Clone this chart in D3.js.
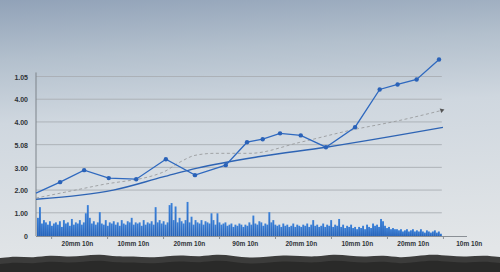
<!DOCTYPE html>
<html><head><meta charset="utf-8">
<script src="https://cdn.jsdelivr.net/npm/d3@7"></script>
<style>html,body{margin:0;padding:0;overflow:hidden;background:#dfe4e8}</style>
</head><body><svg id="c" width="500" height="272"></svg>
<script>
// ---- data ----
const yTickValues = [0, 1, 2, 3, 4, 5, 6, 7];
const yTickLabels = ["0", "1.00", "2.00", "3.00", "5.08", "4.00", "4.00", "1.05"];
const xTickLabels = ["20mm 10n", "10mm 10n", "20mm 10n", "90m 10n", "20mm 10n", "10mm 10n", "20mm 10n", "10m 10n"];
const mainX = [0, 0.43, 0.86, 1.30, 1.79, 2.32, 2.84, 3.39, 3.77, 4.05, 4.36, 4.73, 5.18, 5.70, 6.14, 6.46, 6.80, 7.20];
const mainY = [1.89, 2.37, 2.90, 2.55, 2.50, 3.38, 2.68, 3.12, 4.13, 4.26, 4.52, 4.43, 3.91, 4.79, 6.45, 6.67, 6.89, 7.77];
const trendX = [0, 0.79, 1.38, 2.27, 2.88, 4.0, 5.18, 7.27];
const trendY = [1.62, 1.80, 2.02, 2.60, 2.99, 3.50, 3.91, 4.78];
const dashX = [0, 1.14, 2.27, 2.57, 2.84, 3.2, 3.82, 4.71, 5.61, 6.50, 7.25];
const dashY = [1.67, 2.24, 2.81, 3.25, 3.55, 3.64, 3.64, 4.12, 4.65, 5.09, 5.53];
const barValues = [
 0.8,1.27,0.55,0.7,0.6,0.5,0.65,0.45,0.55,0.6,
 0.5,0.65,0.4,0.7,0.55,0.6,0.45,0.75,0.5,0.6,
 0.55,0.7,0.5,0.6,1.0,1.36,0.8,0.55,0.65,0.5,
 0.6,1.05,0.55,0.5,0.7,0.45,0.6,0.55,0.65,0.5,
 0.6,0.45,0.7,0.55,0.5,0.65,0.6,0.8,0.5,0.6,
 0.55,0.6,0.45,0.7,0.5,0.6,0.55,0.65,0.5,1.27,
 0.6,0.7,0.55,0.65,0.5,0.6,1.36,1.45,0.7,1.3,
 0.6,0.8,0.65,0.55,0.7,1.5,0.6,0.85,0.5,0.7,
 0.6,0.55,0.7,0.5,0.65,0.6,0.55,1.0,0.7,0.5,
 1.0,0.6,0.5,0.55,0.6,0.45,0.5,0.55,0.4,0.5,
 0.45,0.55,0.5,0.4,0.5,0.45,0.6,0.5,0.9,0.55,
 0.5,0.65,0.6,0.45,0.55,0.5,1.05,0.6,0.7,0.5,
 0.45,0.5,0.4,0.55,0.45,0.5,0.4,0.45,0.55,0.4,
 0.5,0.45,0.4,0.5,0.45,0.55,0.4,0.5,0.7,0.45,
 0.5,0.4,0.45,0.55,0.4,0.5,0.45,0.7,0.4,0.5,
 0.45,0.75,0.4,0.5,0.35,0.45,0.4,0.5,0.35,0.4,
 0.3,0.4,0.35,0.45,0.3,0.5,0.4,0.35,0.55,0.45,
 0.5,0.4,0.75,0.65,0.45,0.35,0.4,0.3,0.35,0.3,
 0.3,0.25,0.3,0.2,0.25,0.3,0.2,0.25,0.3,0.2,
 0.25,0.2,0.3,0.2,0.15,0.25,0.2,0.15,0.2,0.25,
 0.15,0.2,0.1
];
// ground silhouette profile (decoration)
const groundProfile = [258,256,258,255,257,256,254,257,256,258,256,255,257,254,256,258,257,255,256,257,254,256,257,255,258,256,254,256,257,255,257];

// ---- drawing ----
const svg = d3.select("#c");
const W = 500, H = 272;
const defs = svg.append("defs");
const bg = defs.append("linearGradient").attr("id","bg").attr("x1",0).attr("y1",0).attr("x2",0.1).attr("y2",1);
bg.append("stop").attr("offset","0%").attr("stop-color","#91a2b8");
bg.append("stop").attr("offset","22%").attr("stop-color","#b3c0cd");
bg.append("stop").attr("offset","45%").attr("stop-color","#cfd7df");
bg.append("stop").attr("offset","100%").attr("stop-color","#e3e6e8");
svg.append("rect").attr("width",W).attr("height",H).attr("fill","url(#bg)");

const barGrad = defs.append("linearGradient").attr("id","bar").attr("x1",0).attr("y1",0).attr("x2",0).attr("y2",1);
barGrad.append("stop").attr("offset","0%").attr("stop-color","#3a80d8");
barGrad.append("stop").attr("offset","100%").attr("stop-color","#2563ba");

const x = d3.scaleLinear().domain([0, 7.7]).range([36, 467]);
const y = d3.scaleLinear().domain([0, 7]).range([236, 77]);
const gridEnd = x(7.25);

// gridlines
svg.append("g").selectAll("line").data(yTickValues.slice(1)).join("line")
  .attr("x1", 36).attr("x2", gridEnd)
  .attr("y1", d => y(d) - 0.5).attr("y2", d => y(d) - 0.5)
  .attr("stroke", "#a9aeb3").attr("stroke-width", 0.9);

// bars
const bx = d3.scaleBand().domain(d3.range(barValues.length)).range([37, gridEnd]).paddingInner(0.05);
svg.append("g").selectAll("rect").data(barValues).join("rect")
  .attr("x", (d, i) => bx(i)).attr("width", bx.bandwidth())
  .attr("y", d => y(d)).attr("height", d => y(0) - y(d))
  .attr("fill", "url(#bar)");

// y axis
const yAxis = d3.axisLeft(y).tickValues(yTickValues).tickSize(0).tickPadding(8)
  .tickFormat((d, i) => yTickLabels[i]);
const gy = svg.append("g").attr("transform", "translate(36,0)").call(yAxis);
gy.select(".domain").attr("stroke", "#7d838a").attr("d", `M0,${y(7.2)}V${y(0)}`);
gy.selectAll("text").attr("font-family", "Liberation Sans, Arial, sans-serif").attr("font-size", 7).attr("font-weight", "bold").attr("fill", "#2f3337");

// x axis
const xTickPos = d3.range(8).map(i => i + 0.27);
const xAxis = d3.axisBottom(x).tickValues(xTickPos).tickSize(3).tickFormat("");
const gx = svg.append("g").attr("transform", `translate(0,${y(0)})`).call(xAxis);
gx.select(".domain").attr("stroke", "#8a8f95").attr("d", `M36,0.5H467`);
gx.selectAll(".tick line").attr("stroke", "#8a8f95");
svg.append("g").selectAll("text").data(xTickLabels).join("text")
  .attr("x", (d, i) => x(i + 0.74)).attr("y", 246)
  .attr("text-anchor", "middle")
  .attr("font-family", "Liberation Sans, Arial, sans-serif").attr("font-size", 6.5).attr("font-weight", "bold").attr("fill", "#2f3337")
  .text(d => d);

// lines
const lineGen = (xs, ys, curve) => d3.line().x((d, i) => x(xs[i])).y(d => y(d)).curve(curve);
svg.append("path").datum(trendY).attr("d", lineGen(trendX, trendY, d3.curveMonotoneX))
  .attr("fill", "none").attr("stroke", "#2e64b4").attr("stroke-width", 1.4);
svg.append("path").datum(dashY).attr("d", lineGen(dashX, dashY, d3.curveMonotoneX))
  .attr("fill", "none").attr("stroke", "#9a9c9e").attr("stroke-width", 0.9).attr("stroke-dasharray", "3,2.5");
svg.append("path").datum(mainY).attr("d", lineGen(mainX, mainY, d3.curveLinear))
  .attr("fill", "none").attr("stroke", "#2f69bf").attr("stroke-width", 1.3);
svg.append("g").selectAll("circle").data(mainY.slice(1)).join("circle")
  .attr("cx", (d, i) => x(mainX[i + 1])).attr("cy", d => y(d)).attr("r", 2.2)
  .attr("fill", "#2a62b8");
// arrowhead of dashed line
const dl = dashX.length - 1;
svg.append("path")
  .attr("d", d3.symbol().type(d3.symbolTriangle).size(10))
  .attr("transform", `translate(${x(dashX[dl])},${y(dashY[dl])}) rotate(70)`)
  .attr("fill", "#555");

// ground
const gx2 = d3.scaleLinear().domain([0, groundProfile.length - 1]).range([0, W]);
const area = d3.area().x((d, i) => gx2(i)).y0(H).y1(d => d).curve(d3.curveBasis);
svg.append("path").datum(groundProfile).attr("d", area).attr("fill", "#3c3c3b");
svg.append("path").datum(groundProfile.map(v => v + 6)).attr("d", area).attr("fill", "#2a2a29");
</script></body></html>
